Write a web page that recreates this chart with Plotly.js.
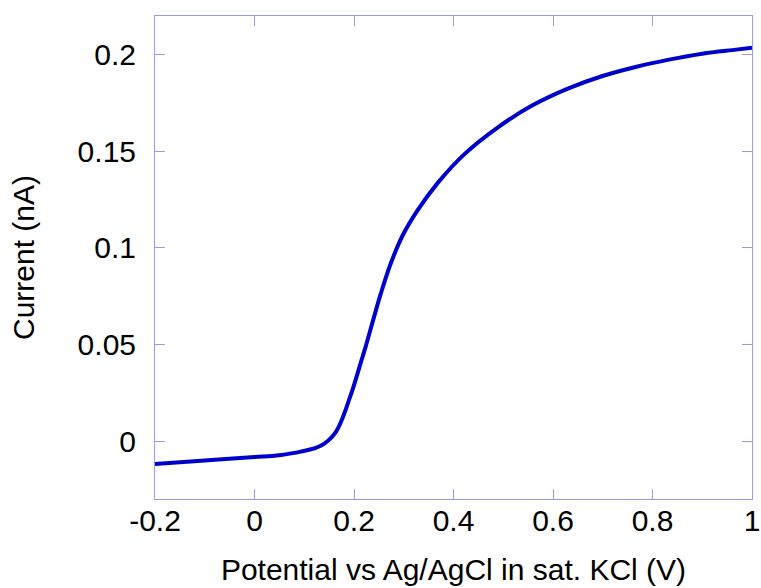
<!DOCTYPE html>
<html>
<head>
<meta charset="utf-8">
<script src="https://cdn.plot.ly/plotly-3.0.1.min.js"></script>
<style>body{margin:0;padding:0;background:#fff}#chart{width:761px;height:588px}</style>
</head>
<body>
<div id="chart"></div>
<script>
const potential = [-0.2, -0.1, 0.0, 0.05, 0.093, 0.133, 0.163, 0.193, 0.2135, 0.2236, 0.240, 0.254, 0.274, 0.298, 0.328, 0.368, 0.422, 0.490, 0.557, 0.631, 0.698, 0.766, 0.833, 0.900, 0.968, 1.0];
const current = [-0.0119, -0.0101, -0.0083, -0.0073, -0.0055, -0.0025, 0.0045, 0.0235, 0.0405, 0.0490, 0.0640, 0.0764, 0.0920, 0.1065, 0.1195, 0.1335, 0.1485, 0.1625, 0.1735, 0.1825, 0.1888, 0.1936, 0.1974, 0.2005, 0.2026, 0.2036];
const xTickVals = [-0.2, 0, 0.2, 0.4, 0.6, 0.8, 1];
const xTickText = ["-0.2", "0", "0.2", "0.4", "0.6", "0.8", "1"];
const yTickVals = [0, 0.05, 0.1, 0.15, 0.2];
const yTickText = ["0", "0.05", "0.1", "0.15", "0.2"];

const frame = '#9999ee';
const font = {family: 'Liberation Sans, Arial, sans-serif', size: 30, color: '#000'};

Plotly.newPlot('chart', [{
  x: potential, y: current, type: 'scatter', mode: 'lines',
  line: {color: '#0000cc', width: 4, shape: 'spline', smoothing: 1},
  hoverinfo: 'skip'
}], {
  width: 761, height: 588,
  margin: {l: 155, r: 9, t: 16, b: 89},
  paper_bgcolor: '#fff', plot_bgcolor: '#fff',
  showlegend: false,
  font: font,
  xaxis: {
    range: [-0.2, 1], tickvals: xTickVals, ticktext: xTickText,
    ticks: 'inside', ticklen: 10, tickcolor: frame, tickwidth: 1,
    showline: true, linecolor: frame, linewidth: 1, mirror: 'ticks',
    showgrid: false, zeroline: false, tickfont: font, ticklabelstandoff: -5,
    title: {text: 'Potential vs Ag/AgCl in sat. KCl (V)', font: font, standoff: 22}
  },
  yaxis: {
    range: [-0.03, 0.22], tickvals: yTickVals, ticktext: yTickText,
    ticks: 'inside', ticklen: 10, tickcolor: frame, tickwidth: 1,
    showline: true, linecolor: frame, linewidth: 1, mirror: 'ticks',
    showgrid: false, zeroline: false, tickfont: font, ticklabelstandoff: 12,
    title: {text: 'Current (nA)', font: font, standoff: 34}
  }
}, {staticPlot: true});
</script>
</body>
</html>
